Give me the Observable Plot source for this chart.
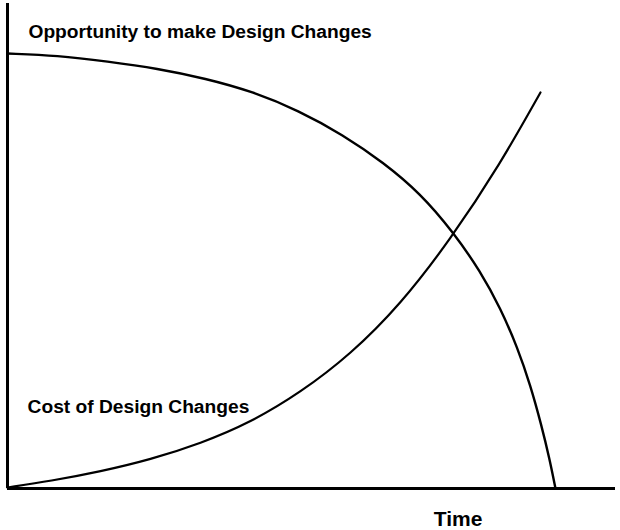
<!DOCTYPE html>
<html>
<head>
<meta charset="utf-8">
<script src="https://cdn.jsdelivr.net/npm/d3@7"></script>
<script src="https://cdn.jsdelivr.net/npm/@observablehq/plot@0.6"></script>
<style>
  html, body { margin: 0; padding: 0; background: #fff; }
  svg { display: block; }
</style>
</head>
<body>
<div id="chart"></div>
<script>
// Opportunity to make design changes (declines over time)
const oppTime  = [0, 8.22, 16.45, 24.67, 32.57, 40.30, 47.86, 55.10, 61.84, 67.93, 73.36, 77.80, 81.09, 83.88, 86.02, 87.83, 89.14, 90.13];
const oppLevel = [89.69, 89.28, 88.04, 86.60, 84.54, 81.86, 77.94, 72.99, 67.22, 60.82, 52.78, 44.74, 37.11, 29.07, 21.24, 12.99, 6.19, 0];

// Cost of design changes (rises over time)
const costTime  = [0, 7.07, 15.30, 23.52, 31.74, 39.97, 48.19, 56.41, 64.64, 72.86, 81.09, 87.66];
const costLevel = [0.21, 1.55, 3.51, 5.98, 9.28, 13.61, 19.79, 27.63, 37.94, 51.34, 67.01, 81.65];

const labelText = ["Opportunity to make Design Changes", "Cost of Design Changes", "Time"];
const labelX = [3.45, 3.3, 74.1];
const labelY = [92.8, 15.5, -7.8];

const opp = oppTime.map((t, i) => ({t, v: oppLevel[i]}));
const cost = costTime.map((t, i) => ({t, v: costLevel[i]}));
const labels = labelText.map((text, i) => ({text, x: labelX[i], y: labelY[i]}));

const chart = Plot.plot({
  width: 620,
  height: 530,
  marginLeft: 7,
  marginRight: 5,
  marginTop: 3,
  marginBottom: 42,
  x: {domain: [0, 100], axis: null},
  y: {domain: [0, 100], axis: null},
  style: {fontFamily: "'Liberation Sans', Arial, sans-serif", background: "#fff"},
  marks: [
    Plot.line(opp, {x: "t", y: "v", curve: "basis", stroke: "#000", strokeWidth: 2.4}),
    Plot.line(cost, {x: "t", y: "v", curve: "basis", stroke: "#000", strokeWidth: 2.2}),
    Plot.ruleX([0], {y1: 0, y2: 100, stroke: "#000", strokeWidth: 3}),
    Plot.ruleY([0], {x1: 0, x2: 100, stroke: "#000", strokeWidth: 3}),
    Plot.text(labels.slice(0, 2), {x: "x", y: "y", text: "text", fontSize: 19.2, fontWeight: "bold", textAnchor: "start", lineAnchor: "bottom", fill: "#000"}),
    Plot.text(labels.slice(2), {x: "x", y: "y", text: "text", fontSize: 21, fontWeight: "bold", textAnchor: "middle", lineAnchor: "bottom", fill: "#000"})
  ]
});
document.getElementById("chart").append(chart);
</script>
</body>
</html>
